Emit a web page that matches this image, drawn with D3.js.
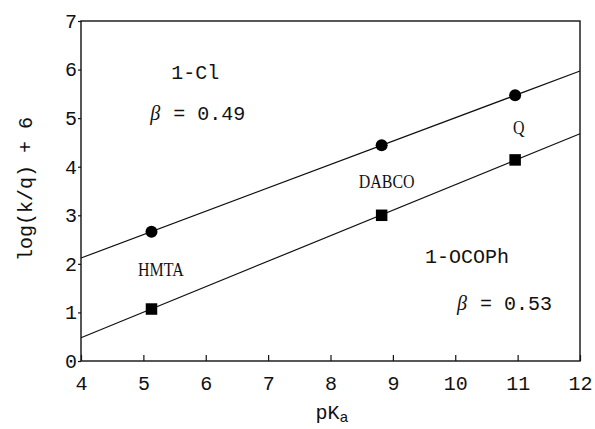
<!DOCTYPE html>
<html>
<head>
<meta charset="utf-8">
<script src="https://cdn.jsdelivr.net/npm/d3@7"></script>
<style>
  body { margin: 0; background: #fff; }
  svg { display: block; }
  .mono { font-family: "Liberation Mono", "DejaVu Sans Mono", monospace; font-size: 20px; fill: #111; }
  .serif { font-family: "Liberation Serif", "DejaVu Serif", serif; font-size: 19px; fill: #111; }
</style>
</head>
<body>
<div id="chart"></div>
<script>
// datos: pKa de las bases y log(k/q)+6
var bases = ["HMTA", "DABCO", "Q"];
var pKa = [5.13, 8.82, 10.96];
var clValues = [2.66, 4.44, 5.47];     // 1-Cl (círculos)
var ocophValues = [1.07, 3.0, 4.14];   // 1-OCOPh (cuadrados)

// rectas de ajuste (extremos)
var fitX = [4, 12];
var clFit = [2.12, 5.97];
var ocophFit = [0.48, 4.68];

var xTicks = [4, 5, 6, 7, 8, 9, 10, 11, 12];
var yTicks = [0, 1, 2, 3, 4, 5, 6, 7];

// anotaciones (en unidades de datos)
var baseLabelPos = [[5.28, 1.75], [8.9, 3.56], [11.02, 4.67]];
var seriesNames = ["1-Cl", "1-OCOPh"];
var seriesBeta = ["0.49", "0.53"];
var seriesLabelPos = [[5.83, 5.8], [10.19, 2.02]];
var betaPos = [[5.11, 4.96], [10.03, 1.05]];

var width = 595, height = 429;
var margin = { top: 21, right: 15, bottom: 68, left: 81 };
var w = width - margin.left - margin.right,
    h = height - margin.top - margin.bottom;

var svg = d3.select("#chart").append("svg")
    .attr("width", width)
    .attr("height", height);

var g = svg.append("g").attr("transform", "translate(" + margin.left + "," + margin.top + ")");

var x = d3.scaleLinear().domain([4, 12]).range([0, w]);
var y = d3.scaleLinear().domain([0, 7]).range([h, 0]);

// marco
g.append("rect")
    .attr("width", w).attr("height", h)
    .attr("fill", "none").attr("stroke", "#111").attr("stroke-width", 1.4);

// eje x: ticks hacia dentro
var xAxis = g.append("g").attr("transform", "translate(0," + h + ")")
    .call(d3.axisBottom(x).tickValues(xTicks).tickSize(-6).tickPadding(15).tickFormat(d3.format("d")));
xAxis.select(".domain").remove();
xAxis.selectAll("line").attr("stroke", "#111").attr("stroke-width", 1.2);
xAxis.selectAll("text").attr("class", "mono").attr("fill", null);
xAxis.attr("font-size", null).attr("font-family", null);

// eje y: ticks hacia fuera
var yAxis = g.append("g")
    .call(d3.axisLeft(y).tickValues(yTicks).tickSize(3).tickPadding(1).tickFormat(d3.format("d")));
yAxis.select(".domain").remove();
yAxis.selectAll("line").attr("stroke", "#111").attr("stroke-width", 1.2);
yAxis.selectAll("text").attr("class", "mono").attr("fill", null);
yAxis.attr("font-size", null).attr("font-family", null);

// rectas
var line = d3.line().x(function (d) { return x(d[0]) }).y(function (d) { return y(d[1]) });
[clFit, ocophFit].forEach(function (fit) {
    g.append("path")
        .datum(d3.zip(fitX, fit))
        .attr("d", line)
        .attr("fill", "none").attr("stroke", "#111").attr("stroke-width", 1.2);
});

// puntos
g.selectAll(".cl").data(d3.zip(pKa, clValues)).enter()
    .append("circle").attr("class", "cl")
    .attr("cx", function (d) { return x(d[0]) })
    .attr("cy", function (d) { return y(d[1]) })
    .attr("r", 6).attr("fill", "#000");

var s = 11.5;
g.selectAll(".ocoph").data(d3.zip(pKa, ocophValues)).enter()
    .append("rect").attr("class", "ocoph")
    .attr("x", function (d) { return x(d[0]) - s / 2 })
    .attr("y", function (d) { return y(d[1]) - s / 2 })
    .attr("width", s).attr("height", s).attr("fill", "#000");

// etiquetas de las bases (serif estrecha)
g.selectAll(".base").data(bases).enter()
    .append("text").attr("class", "serif base")
    .attr("text-anchor", "middle")
    .attr("transform", function (d, i) {
        return "translate(" + x(baseLabelPos[i][0]) + "," + y(baseLabelPos[i][1]) + ") scale(0.84,1)"
    })
    .text(function (d) { return d });

// nombres de serie y beta
seriesNames.forEach(function (name, i) {
    g.append("text").attr("class", "mono")
        .attr("text-anchor", "middle")
        .attr("x", x(seriesLabelPos[i][0]))
        .attr("y", y(seriesLabelPos[i][1]))
        .text(name);

    var t = g.append("text").attr("class", "mono")
        .attr("x", x(betaPos[i][0]))
        .attr("y", y(betaPos[i][1]));
    t.append("tspan")
        .style("font-family", "'Liberation Serif', serif")
        .style("font-style", "italic")
        .text("\u03b2");
    t.append("tspan").attr("dx", 1).text(" = " + seriesBeta[i]);
});

// títulos de los ejes
var xl = svg.append("text").attr("class", "mono")
    .attr("text-anchor", "middle")
    .attr("x", 332).attr("y", 419);
xl.append("tspan").text("pK");
xl.append("tspan").attr("dy", 3).style("font-size", "15px").text("a");

svg.append("text").attr("class", "mono")
    .attr("text-anchor", "middle")
    .attr("transform", "translate(32,189) rotate(-90)")
    .text("log(k/q) + 6");
</script>
</body>
</html>
